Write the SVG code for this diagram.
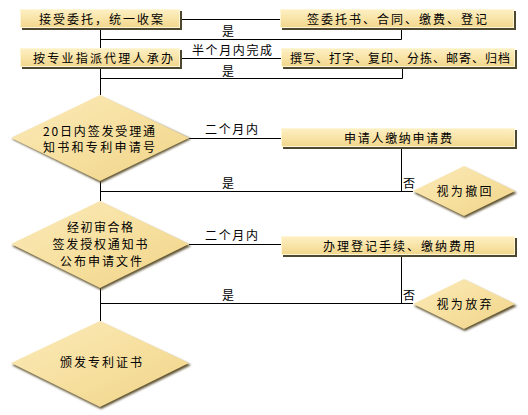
<svg xmlns="http://www.w3.org/2000/svg" width="528" height="415" viewBox="0 0 528 415">
<defs>
<linearGradient id="bg" x1="0" y1="0" x2="0" y2="1">
<stop offset="0" stop-color="#FDF0C4"/>
<stop offset="0.5" stop-color="#F9E4A8"/>
<stop offset="1" stop-color="#F1D68C"/>
</linearGradient>
<linearGradient id="dg" x1="0" y1="0" x2="1" y2="1">
<stop offset="0" stop-color="#FBEBBA"/>
<stop offset="0.5" stop-color="#F7E0A0"/>
<stop offset="1" stop-color="#EFD388"/>
</linearGradient>
<filter id="blur" x="-10%" y="-10%" width="120%" height="120%"><feGaussianBlur stdDeviation="0.8"/></filter>
</defs>
<style>
.box{fill:url(#bg);stroke:#FFF6D6;stroke-width:1}
.shadow{fill:#4E4730}
.dia{fill:url(#dg)}
.dshadow{fill:#5E5230;filter:url(#blur)}
.t{font-family:"Noto Sans CJK SC","Noto Sans",sans-serif;font-size:12px;fill:#000;text-anchor:middle}
.l{font-family:"Noto Sans CJK SC","Noto Sans",sans-serif;font-size:12px;fill:#000}
.c{fill:none;stroke:#000;stroke-width:1}
</style>
<rect width="528" height="415" fill="#fff"/>
<g id="connectors">
<path class="c" d="M182 19.5H281"/>
<path class="c" d="M100.5 30V48"/>
<path class="c" d="M100.5 39.5H401.5V30"/>
<path class="c" d="M182 58.5H282"/>
<path class="c" d="M100.5 69V95"/>
<path class="c" d="M100.5 78.5H402.5V69"/>
<path class="c" d="M189 138.5H282"/>
<path class="c" d="M401.5 149V191.5"/>
<path class="c" d="M100.5 181V201"/>
<path class="c" d="M100.5 191.5H413"/>
<path class="c" d="M189 244.5H282"/>
<path class="c" d="M401.5 257V303.5"/>
<path class="c" d="M100.5 288V321"/>
<path class="c" d="M100.5 303.5H413"/>
<text class="l" x="222" y="36">是</text>
<text class="l" x="192" y="55" textLength="80" lengthAdjust="spacing">半个月内完成</text>
<text class="l" x="222" y="76">是</text>
<text class="l" x="205" y="134" textLength="53" lengthAdjust="spacing">二个月内</text>
<text class="l" x="222" y="188">是</text>
<text class="l" x="403" y="188">否</text>
<text class="l" x="205" y="240" textLength="53" lengthAdjust="spacing">二个月内</text>
<text class="l" x="222" y="300">是</text>
<text class="l" x="403" y="300">否</text>
</g>
<g id="n1">
<rect class="shadow" x="22" y="11" width="160" height="19"/>
<rect class="box" x="20.5" y="9.5" width="159" height="18"/>
<text class="t" x="101" y="23.5" textLength="124" lengthAdjust="spacing">接受委托，统一收案</text>
</g>
<g id="n2">
<rect class="shadow" x="282" y="11" width="234" height="19"/>
<rect class="box" x="280.5" y="9.5" width="233" height="18"/>
<text class="t" x="397" y="23.5" textLength="180" lengthAdjust="spacing">签委托书、合同、缴费、登记</text>
</g>
<g id="n3">
<rect class="shadow" x="22" y="50" width="160" height="19"/>
<rect class="box" x="20.5" y="48.5" width="159" height="18"/>
<text class="t" x="103" y="62.5" textLength="140" lengthAdjust="spacing">按专业指派代理人承办</text>
</g>
<g id="n4">
<rect class="shadow" x="283" y="50" width="234" height="19"/>
<rect class="box" x="281.5" y="48.5" width="233" height="18"/>
<text class="t" x="400" y="62.5" textLength="220" lengthAdjust="spacing">撰写、打字、复印、分拣、邮寄、归档</text>
</g>
<g id="n5">
<polygon class="dshadow" points="101,97 191,139 101,183 12,139"/>
<polygon class="dia" points="100,95 189,138 100,181 11,138"/>
<text class="t" x="99" y="136" textLength="112" lengthAdjust="spacing">20日内签发受理通</text>
<text class="t" x="99" y="152" textLength="112" lengthAdjust="spacing">知书和专利申请号</text>
</g>
<g id="n6">
<rect class="shadow" x="283" y="130" width="234" height="19"/>
<rect class="box" x="281.5" y="128.5" width="233" height="18"/>
<text class="t" x="398" y="142.5" textLength="108" lengthAdjust="spacing">申请人缴纳申请费</text>
</g>
<g id="n7">
<polygon class="dshadow" points="465,168 517,193 465,218 414,193"/>
<polygon class="dia" points="464,166 515,191 464,216 413,191"/>
<text class="t" x="464" y="196" textLength="55" lengthAdjust="spacing">视为撤回</text>
</g>
<g id="n8">
<polygon class="dshadow" points="101,203 191,246 101,290 12,246"/>
<polygon class="dia" points="100,201 189,244 100,288 11,244"/>
<text class="t" x="100" y="232" textLength="66" lengthAdjust="spacing">经初审合格</text>
<text class="t" x="100" y="249" textLength="95" lengthAdjust="spacing">签发授权通知书</text>
<text class="t" x="101" y="266" textLength="82" lengthAdjust="spacing">公布申请文件</text>
</g>
<g id="n9">
<rect class="shadow" x="283" y="238" width="234" height="19"/>
<rect class="box" x="281.5" y="236.5" width="233" height="18"/>
<text class="t" x="399" y="250.5" textLength="152" lengthAdjust="spacing">办理登记手续、缴纳费用</text>
</g>
<g id="n10">
<polygon class="dshadow" points="465,281 517,306 465,331 414,306"/>
<polygon class="dia" points="464,279 515,304 464,329 413,304"/>
<text class="t" x="464" y="309" textLength="55" lengthAdjust="spacing">视为放弃</text>
</g>
<g id="n11">
<polygon class="dshadow" points="101,323 191,365 101,409 12,365"/>
<polygon class="dia" points="100,321 189,363 100,407 11,363"/>
<text class="t" x="101" y="367" textLength="82" lengthAdjust="spacing">颁发专利证书</text>
</g>
</svg>
